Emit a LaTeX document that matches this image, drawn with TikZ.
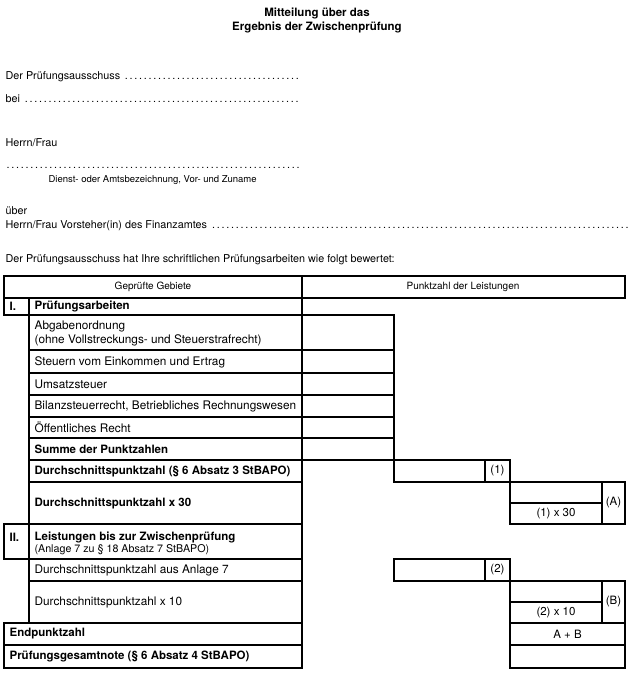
\documentclass[tikz,border=0pt]{standalone}
\usepackage{fontspec}
\setmainfont{TeX Gyre Heros}
\usetikzlibrary{positioning}

\begin{document}
\begin{tikzpicture}[x=1pt,y=-1pt,line width=1.2pt]
    \useasboundingbox (0,0) rectangle (633,681);
    \begin{scope}[every node/.style={font=\fontsize{11.8}{14}\selectfont,inner sep=0pt}]

% title
\node (title_1) at (317,13) {\fontsize{11.5}{14}\selectfont\bfseries Mitteilung über das};
\node (title_2) at (317,27) {\fontsize{11.5}{14}\selectfont\bfseries Ergebnis der Zwischenprüfung};

% form lines
\begin{scope}[every node/.style={font=\fontsize{10.8}{13}\selectfont,inner sep=0pt,anchor=west}]
\node (form_1) at (5,77)  {\hbox to 295pt{Der Prüfungsausschuss \dotfill}};
\node (form_2) at (5,99)  {\hbox to 295pt{bei \dotfill}};
\node (form_3) at (5,143) {Herrn/Frau};
\node (form_4) at (5,168) {\hbox to 295pt{\dotfill}};
\node[font=\fontsize{9.5}{11}\selectfont] (form_5) at (48,180) {Dienst- oder Amtsbezeichnung, Vor- und Zuname};
\node (form_6) at (5,211) {über};
\node (form_7) at (5,226) {\hbox to 625pt{Herrn/Frau Vorsteher(in) des Finanzamtes \dotfill}};
\node (form_8) at (5,260) {Der Prüfungsausschuss hat Ihre schriftlichen Prüfungsarbeiten wie folgt bewertet:};
\end{scope}

% table, left part
\draw (4,276)   rectangle (302,298);
\draw (302,276) rectangle (625,298);
\draw (4,298)   rectangle (29,315);
\draw (29,298)  rectangle (302,315);
\draw (29,315)  rectangle (302,350);
\draw (29,350)  rectangle (302,373);
\draw (29,373)  rectangle (302,395);
\draw (29,395)  rectangle (302,417);
\draw (29,417)  rectangle (302,438);
\draw (29,438)  rectangle (302,460);
\draw (29,460)  rectangle (302,482);
\draw (29,482)  rectangle (302,524);
\draw (4,524)   rectangle (29,559);
\draw (29,524)  rectangle (302,559);
\draw (29,559)  rectangle (302,581);
\draw (29,581)  rectangle (302,623);
\draw (4,623)   rectangle (302,645);
\draw (4,645)   rectangle (302,668);

% table, point boxes
\draw (302,315) rectangle (394,350);
\draw (302,350) rectangle (394,373);
\draw (302,373) rectangle (394,395);
\draw (302,395) rectangle (394,417);
\draw (302,417) rectangle (394,438);
\draw (302,438) rectangle (394,460);
\draw (394,460) rectangle (485,482);
\draw (485,460) rectangle (510,482);
\draw (510,482) rectangle (602,503);
\draw (510,503) rectangle (602,524);
\draw (602,482) rectangle (625,524);
\draw (394,559) rectangle (485,581);
\draw (485,559) rectangle (510,581);
\draw (510,581) rectangle (602,602);
\draw (510,602) rectangle (602,623);
\draw (602,581) rectangle (625,623);
\draw (510,623) rectangle (625,645);
\draw (510,645) rectangle (625,668);

% table texts
\node[font=\fontsize{10}{12}\selectfont] (head_1) at (153,287) {Geprüfte Gebiete};
\node[font=\fontsize{10}{12}\selectfont] (head_2) at (463,287) {Punktzahl der Leistungen};

\begin{scope}[every node/.append style={anchor=west}]
\node[font=\fontsize{11.5}{14}\selectfont\bfseries] (row_0)  at (9,306)  {I.};
\node[font=\fontsize{11.5}{14}\selectfont\bfseries] (row_1)  at (34,306) {Prüfungsarbeiten};
\node[align=left] (row_2) at (34,333) {Abgabenordnung\\(ohne Vollstreckungs- und Steuerstrafrecht)};
\node (row_3)  at (34,362) {Steuern vom Einkommen und Ertrag};
\node (row_4)  at (34,384) {Umsatzsteuer};
\node (row_5)  at (34,406) {Bilanzsteuerrecht, Betriebliches Rechnungswesen};
\node (row_6)  at (34,427) {Öffentliches Recht};
\node[font=\fontsize{11.5}{14}\selectfont\bfseries] (row_7)  at (34,449) {Summe der Punktzahlen};
\node[font=\fontsize{11.5}{14}\selectfont\bfseries] (row_8)  at (34,471) {Durchschnittspunktzahl (§ 6 Absatz 3 StBAPO)};
\node[font=\fontsize{11.5}{14}\selectfont\bfseries] (row_9)  at (34,503) {Durchschnittspunktzahl x 30};
\node[font=\fontsize{11.5}{14}\selectfont\bfseries] (row_10) at (9,537)  {II.};
\node[font=\fontsize{11.5}{14}\selectfont\bfseries] (row_11) at (34,537) {Leistungen bis zur Zwischenprüfung};
\node[font=\fontsize{10.7}{12}\selectfont] (row_12) at (34,550) {(Anlage 7 zu § 18 Absatz 7 StBAPO)};
\node (row_13) at (34,570) {Durchschnittspunktzahl aus Anlage 7};
\node (row_14) at (34,602) {Durchschnittspunktzahl x 10};
\node[font=\fontsize{11.5}{14}\selectfont\bfseries] (row_15) at (9,634)  {Endpunktzahl};
\node[font=\fontsize{11.5}{14}\selectfont\bfseries] (row_16) at (9,656)  {Prüfungsgesamtnote (§ 6 Absatz 4 StBAPO)};
\end{scope}

\begin{scope}[every node/.append style={font=\fontsize{11.5}{13}\selectfont}]
\node (pts_1) at (497.5,471)   {(1)};
\node (pts_2) at (556,513.5)   {(1) x 30};
\node (pts_3) at (613.5,503)   {(A)};
\node (pts_4) at (497.5,570)   {(2)};
\node (pts_5) at (556,612.5)   {(2) x 10};
\node (pts_6) at (613.5,602)   {(B)};
\node (pts_7) at (567.5,634)   {A + B};
\end{scope}

    \end{scope}
\end{tikzpicture}
\end{document}
